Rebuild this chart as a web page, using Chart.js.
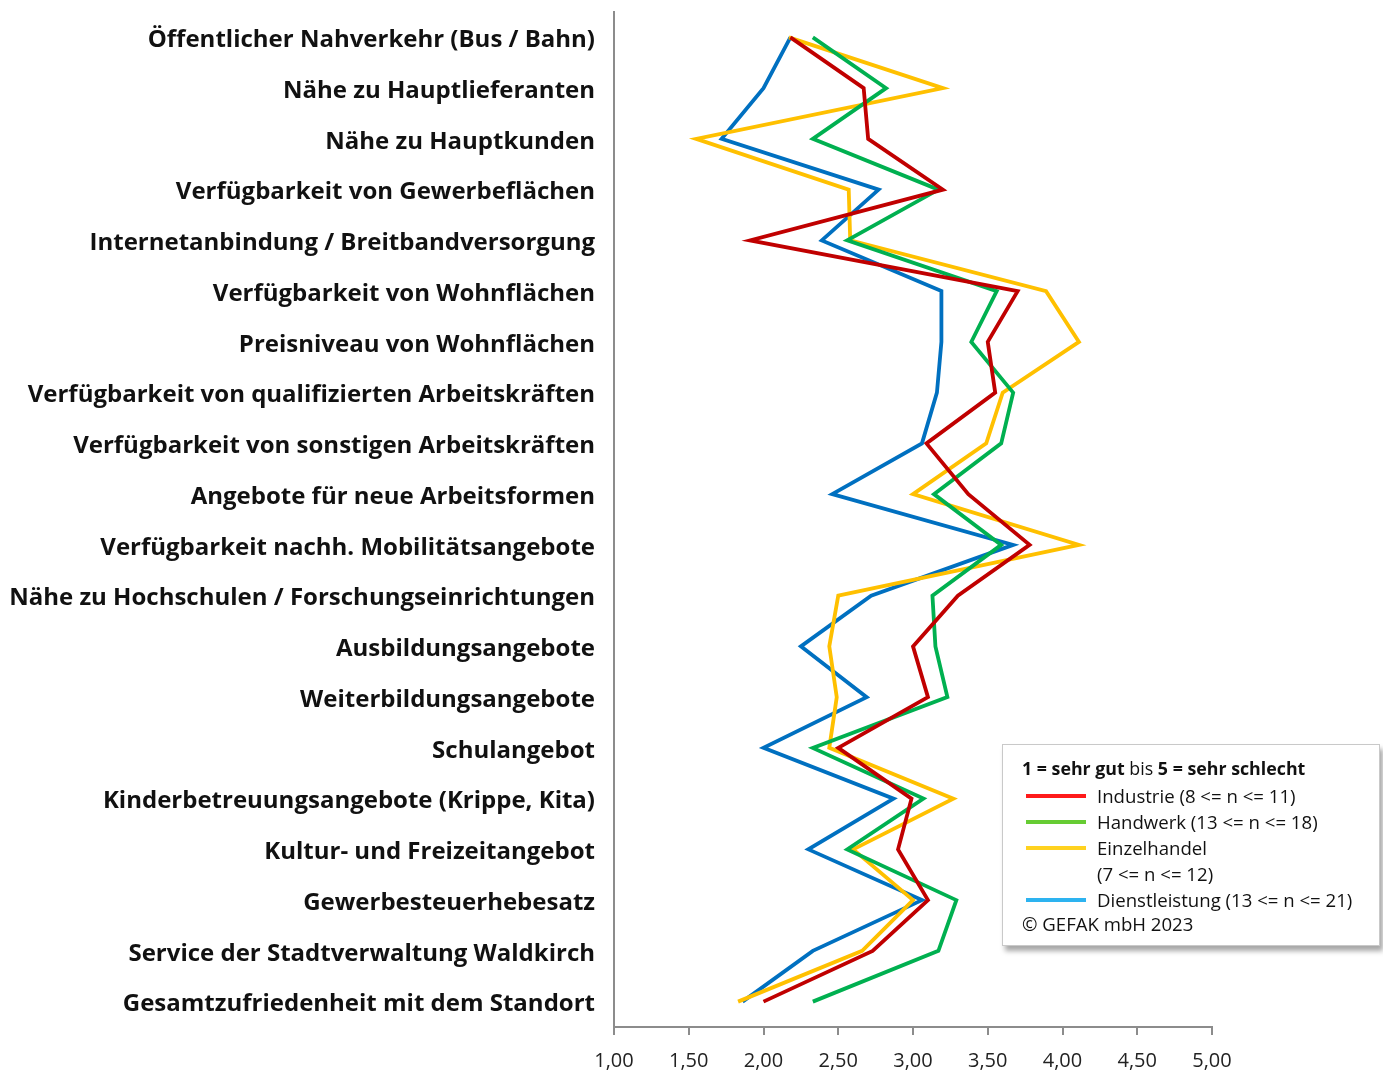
<!DOCTYPE html>
<html lang="de">
<head>
<meta charset="utf-8">
<title>Standortfaktoren Waldkirch – Bewertung nach Branchen</title>
<script src="https://cdn.jsdelivr.net/npm/chart.js@4.4.1/dist/chart.umd.min.js"></script>
<style>
  html, body { margin: 0; padding: 0; background: #ffffff; }
  #wrap { position: relative; width: 1383px; height: 1075px; }
  #chart { position: absolute; left: 0; top: 0; }
  #legendBox {
    position: absolute; left: 1002px; top: 744px; width: 378px; height: 202px;
    box-sizing: border-box; border: 1px solid #c9c9c9; background: #ffffff;
    box-shadow: 3px 5px 5px rgba(0,0,0,0.35);
    font-family: "Open Sans", "Noto Sans", sans-serif; font-size: 18.6px; color: #111;
  }
  #legendBox .head { position: absolute; left: 19px; top: 11px; white-space: nowrap; font-size: 17.8px; }
  #legendBox .row { position: absolute; left: 0; white-space: nowrap; height: 26px; line-height: 26px; }
  #legendBox .sw { position: absolute; left: 23px; top: 11px; width: 60px; height: 4px; }
  #legendBox .tx { position: absolute; left: 94px; top: 0; }
  #legendBox .copy { position: absolute; left: 19px; top: 166px; white-space: nowrap; line-height: 26px; }
</style>
</head>
<body>
<div id="wrap">
  <canvas id="chart" width="1383" height="1075"></canvas>
  <div id="legendBox"></div>
</div>
<script>
// Standortfaktoren (Kategorien, von oben nach unten)
const categories = [
  "Öffentlicher Nahverkehr (Bus / Bahn)",
  "Nähe zu Hauptlieferanten",
  "Nähe zu Hauptkunden",
  "Verfügbarkeit von Gewerbeflächen",
  "Internetanbindung / Breitbandversorgung",
  "Verfügbarkeit von Wohnflächen",
  "Preisniveau von Wohnflächen",
  "Verfügbarkeit von qualifizierten Arbeitskräften",
  "Verfügbarkeit von sonstigen Arbeitskräften",
  "Angebote für neue Arbeitsformen",
  "Verfügbarkeit nachh. Mobilitätsangebote",
  "Nähe zu Hochschulen / Forschungseinrichtungen",
  "Ausbildungsangebote",
  "Weiterbildungsangebote",
  "Schulangebot",
  "Kinderbetreuungsangebote (Krippe, Kita)",
  "Kultur- und Freizeitangebot",
  "Gewerbesteuerhebesatz",
  "Service der Stadtverwaltung Waldkirch",
  "Gesamtzufriedenheit mit dem Standort"
];

// Durchschnittsnoten je Branche (1 = sehr gut bis 5 = sehr schlecht)
const industrie      = [2.18, 2.67, 2.70, 3.20, 1.91, 3.70, 3.50, 3.55, 3.09, 3.37, 3.78, 3.30, 3.00, 3.10, 2.50, 2.99, 2.90, 3.10, 2.73, 2.00];
const handwerk       = [2.33, 2.82, 2.33, 3.17, 2.56, 3.56, 3.39, 3.67, 3.59, 3.14, 3.59, 3.13, 3.15, 3.23, 2.33, 3.07, 2.56, 3.29, 3.17, 2.33];
const einzelhandel   = [2.17, 3.20, 1.55, 2.57, 2.58, 3.89, 4.11, 3.60, 3.49, 3.00, 4.11, 2.50, 2.44, 2.49, 2.44, 3.27, 2.60, 3.00, 2.66, 1.83];
const dienstleistung = [2.18, 2.00, 1.72, 2.77, 2.39, 3.19, 3.19, 3.16, 3.06, 2.46, 3.67, 2.72, 2.25, 2.69, 2.00, 2.87, 2.30, 3.06, 2.33, 1.86];

// Legendentexte
const seriesNames = ["Industrie (8 <= n <= 11)", "Handwerk (13 <= n <= 18)", "Einzelhandel", "Dienstleistung (13 <= n <= 21)"];
const seriesNameExtra = ["", "", "(7 <= n <= 12)", ""];
const legendTitleParts = [["1 = sehr gut", true], [" bis ", false], ["5 = sehr schlecht", true]];
const copyrightText = "© GEFAK mbH 2023";

// Achsenbeschriftung der Notenskala
const xTickValues = [1, 1.5, 2, 2.5, 3, 3.5, 4, 4.5, 5];
const xTickLabels = ["1,00", "1,50", "2,00", "2,50", "3,00", "3,50", "4,00", "4,50", "5,00"];

const lineColors   = ["#C00000", "#00B050", "#FFC000", "#0070C0"];
const legendColors = ["#FF1A1A", "#66CC33", "#FFD21F", "#2DB3F0"];

const seriesValues = [industrie, handwerk, einzelhandel, dienstleistung];

const datasets = seriesValues.map((vals, i) => ({
  label: seriesNames[i],
  data: vals,
  borderColor: lineColors[i],
  backgroundColor: lineColors[i],
  borderWidth: 3.8,
  pointRadius: 0,
  pointHoverRadius: 0,
  tension: 0,
  fill: false
}));

const axisGray = "#8c8c8c";

new Chart(document.getElementById("chart"), {
  type: "line",
  data: { labels: categories, datasets: datasets },
  options: {
    indexAxis: "y",
    responsive: false,
    animation: false,
    events: [],
    layout: { padding: { top: 12, right: 171, bottom: 0, left: 0 } },
    plugins: { legend: { display: false }, tooltip: { enabled: false } },
    scales: {
      y: {
        type: "category",
        offset: true,
        grid: { display: false, drawTicks: false },
        border: { display: true, color: axisGray, width: 2 },
        ticks: {
          padding: 19,
          labelOffset: 3,
          color: "#111111",
          font: { family: "Open Sans", weight: "bold", size: 24 },
          autoSkip: false
        },
        afterFit: (scale) => {
          scale.width = 614;
          scale.paddingTop = 0;
          scale.paddingBottom = 0;
        }
      },
      x: {
        type: "linear",
        min: 1,
        max: 5,
        afterBuildTicks: (scale) => { scale.ticks = xTickValues.map(v => ({ value: v })); },
        grid: { drawOnChartArea: false, drawTicks: true, tickLength: 8, color: axisGray, lineWidth: 2 },
        border: { display: true, color: axisGray, width: 2 },
        ticks: {
          padding: 14,
          color: "#222222",
          font: { family: "Open Sans", size: 20 },
          callback: (value, index) => xTickLabels[index]
        },
        afterFit: (scale) => { scale.height = 48; }
      }
    }
  }
});

// Legende als eigener Kasten
(function buildLegend() {
  const box = document.getElementById("legendBox");
  const head = document.createElement("div");
  head.className = "head";
  legendTitleParts.forEach(([t, bold]) => {
    const s = document.createElement("span");
    s.textContent = t;
    if (bold) s.style.fontWeight = "bold";
    head.appendChild(s);
  });
  box.appendChild(head);
  const rowTops = [38, 64, 90, 142];
  seriesNames.forEach((name, i) => {
    const row = document.createElement("div");
    row.className = "row";
    row.style.top = rowTops[i] + "px";
    const sw = document.createElement("div");
    sw.className = "sw";
    sw.style.background = legendColors[i];
    const tx = document.createElement("div");
    tx.className = "tx";
    tx.textContent = name;
    row.appendChild(sw);
    row.appendChild(tx);
    box.appendChild(row);
    if (seriesNameExtra[i]) {
      const r2 = document.createElement("div");
      r2.className = "row";
      r2.style.top = (rowTops[i] + 26) + "px";
      const t2 = document.createElement("div");
      t2.className = "tx";
      t2.textContent = seriesNameExtra[i];
      r2.appendChild(t2);
      box.appendChild(r2);
    }
  });
  const cp = document.createElement("div");
  cp.className = "copy";
  cp.textContent = copyrightText;
  box.appendChild(cp);
})();
</script>
</body>
</html>
